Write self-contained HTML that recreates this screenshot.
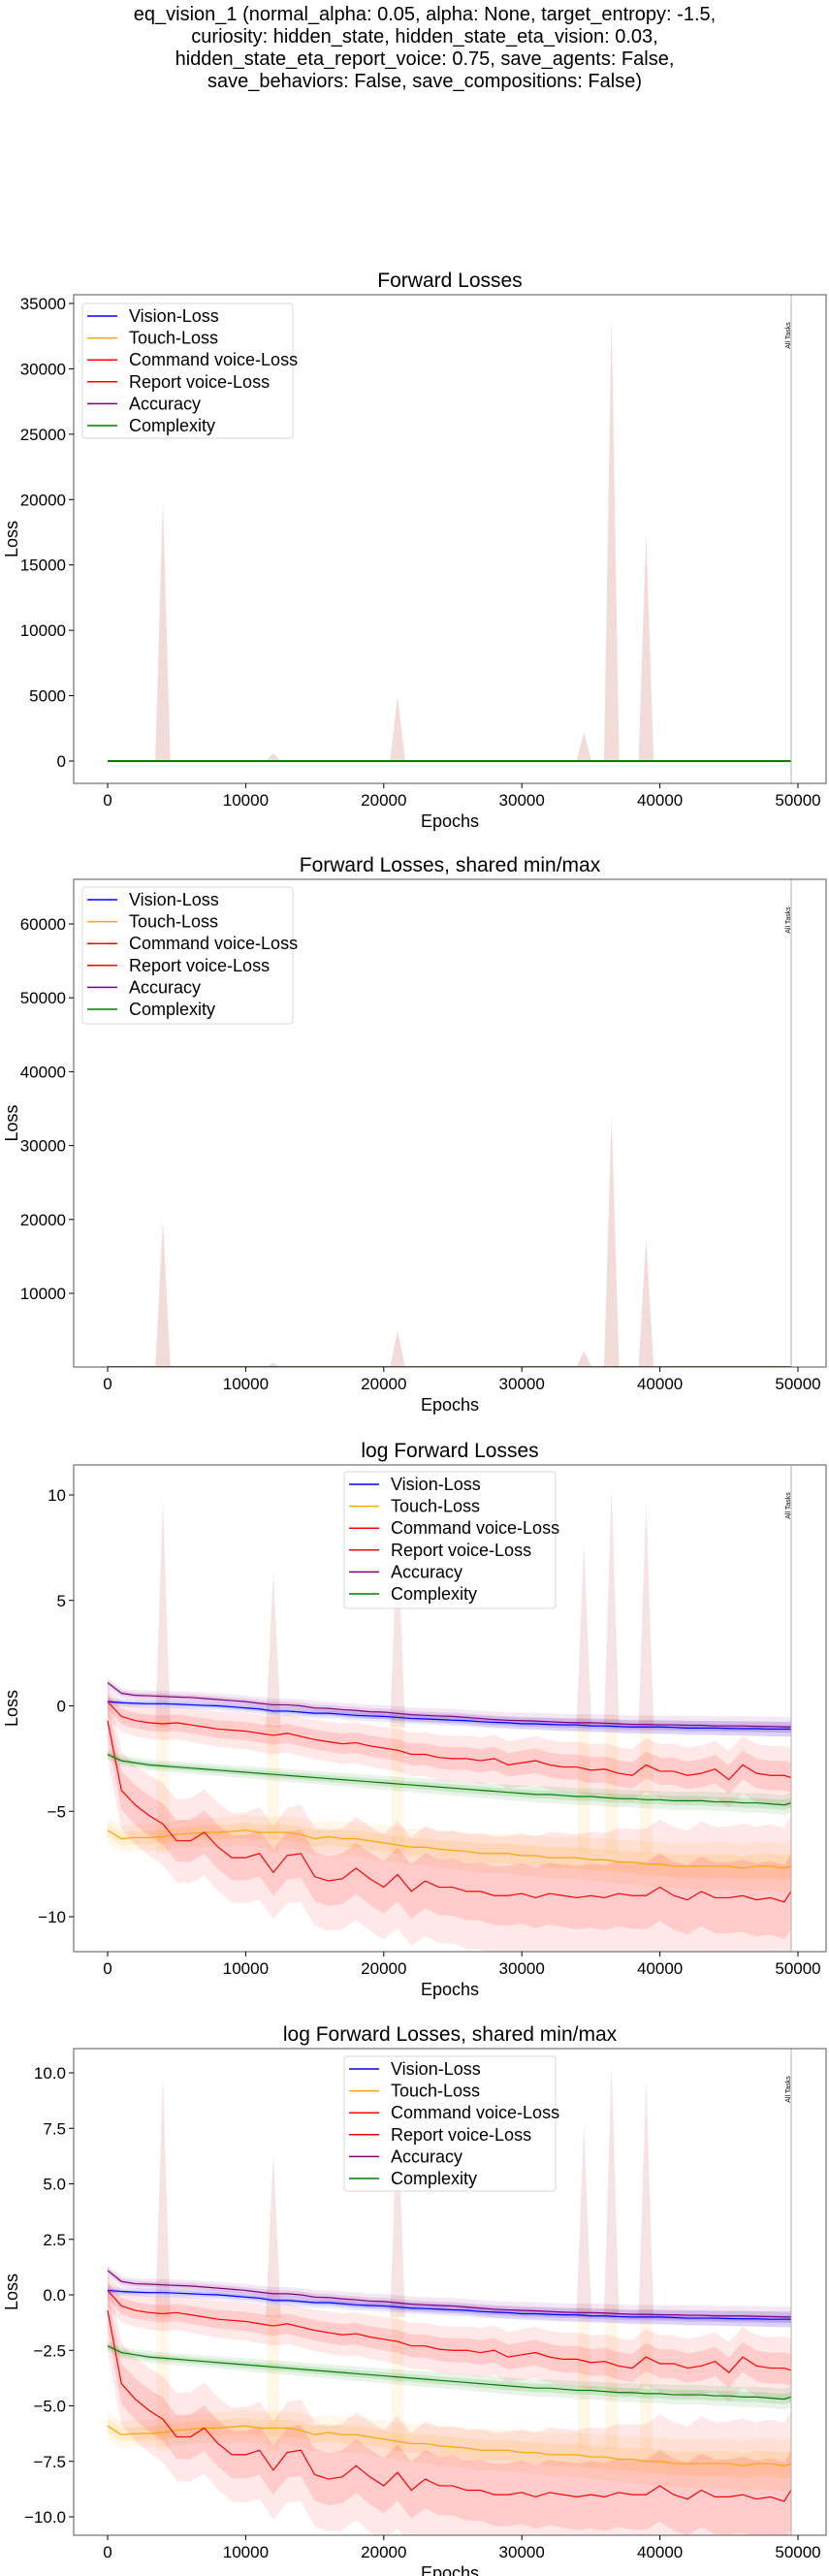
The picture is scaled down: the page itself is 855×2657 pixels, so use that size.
<!DOCTYPE html>
<html><head><meta charset="utf-8">
<style>
html,body{margin:0;padding:0;background:#fff;}
svg{display:block;font-family:"Liberation Sans","DejaVu Sans",sans-serif;}
</style></head>
<body>
<svg id="fig" width="855" height="2657" viewBox="0 0 855 2657" xmlns="http://www.w3.org/2000/svg">
<g font-size="20" text-anchor="middle" fill="#000">
<text x="438" y="21">eq_vision_1 (normal_alpha: 0.05, alpha: None, target_entropy: -1.5,</text>
<text x="438" y="44">curiosity: hidden_state, hidden_state_eta_vision: 0.03,</text>
<text x="438" y="67">hidden_state_eta_report_voice: 0.75, save_agents: False,</text>
<text x="438" y="90">save_behaviors: False, save_compositions: False)</text>
</g>
</svg>
<script>
// ---- data ----
const epochs = [0,1000,2000,3000,4000,5000,6000,7000,8000,9000,10000,11000,12000,13000,14000,15000,16000,17000,18000,19000,20000,21000,22000,23000,24000,25000,26000,27000,28000,29000,30000,31000,32000,33000,34000,35000,36000,37000,38000,39000,40000,41000,42000,43000,44000,45000,46000,47000,48000,49000,49500];
const seriesNames = ["Vision-Loss","Touch-Loss","Command voice-Loss","Report voice-Loss","Accuracy","Complexity"];
const visionLog = [0.2,0.15,0.12,0.1,0.1,0.08,0.05,0.02,0,-0.05,-0.1,-0.15,-0.25,-0.25,-0.3,-0.35,-0.35,-0.4,-0.45,-0.48,-0.5,-0.55,-0.6,-0.62,-0.65,-0.68,-0.7,-0.75,-0.78,-0.8,-0.85,-0.85,-0.88,-0.9,-0.9,-0.95,-0.95,-0.98,-1.0,-1.0,-1.0,-1.02,-1.05,-1.05,-1.05,-1.07,-1.08,-1.08,-1.1,-1.1,-1.1];
const touchLog = [-5.9,-6.3,-6.25,-6.25,-6.2,-6.1,-6.05,-6.0,-6.0,-5.95,-5.9,-6.0,-6.0,-6.0,-6.1,-6.3,-6.2,-6.3,-6.3,-6.4,-6.5,-6.6,-6.7,-6.7,-6.8,-6.85,-6.9,-7.0,-7.0,-7.0,-7.1,-7.1,-7.2,-7.2,-7.2,-7.3,-7.3,-7.4,-7.4,-7.5,-7.5,-7.6,-7.6,-7.6,-7.6,-7.6,-7.7,-7.6,-7.6,-7.7,-7.6];
const commandLog = [0.2,-0.5,-0.7,-0.8,-0.85,-0.8,-0.9,-1.0,-1.1,-1.15,-1.2,-1.3,-1.4,-1.3,-1.45,-1.6,-1.7,-1.8,-1.75,-1.9,-2.0,-2.1,-2.3,-2.3,-2.45,-2.5,-2.5,-2.6,-2.5,-2.8,-2.7,-2.6,-2.8,-2.9,-2.9,-3.05,-3.0,-3.2,-3.3,-2.8,-3.1,-3.1,-3.3,-3.2,-3.0,-3.5,-2.8,-3.2,-3.3,-3.3,-3.4];
const reportLog = [-0.7,-4.0,-4.7,-5.2,-5.6,-6.4,-6.4,-6.0,-6.7,-7.2,-7.2,-7.0,-7.9,-7.1,-7.0,-8.1,-8.3,-8.2,-7.7,-8.2,-8.6,-8.0,-8.8,-8.3,-8.6,-8.6,-8.8,-8.8,-9.0,-9.0,-8.9,-9.1,-8.9,-9.0,-9.1,-9.0,-9.1,-8.9,-9.0,-9.0,-8.6,-9.0,-9.2,-8.8,-9.1,-9.1,-9.0,-9.2,-9.1,-9.3,-8.8];
const accuracyLog = [1.1,0.6,0.5,0.48,0.45,0.42,0.4,0.35,0.3,0.25,0.2,0.12,0.05,0.05,0.0,-0.1,-0.12,-0.18,-0.22,-0.28,-0.3,-0.36,-0.42,-0.45,-0.48,-0.5,-0.55,-0.6,-0.65,-0.68,-0.7,-0.72,-0.75,-0.78,-0.8,-0.8,-0.82,-0.85,-0.88,-0.88,-0.9,-0.9,-0.92,-0.92,-0.95,-0.95,-0.95,-0.97,-0.98,-1.0,-1.0];
const complexityLog = [-2.3,-2.6,-2.7,-2.8,-2.85,-2.9,-2.95,-3.0,-3.05,-3.1,-3.15,-3.2,-3.25,-3.3,-3.35,-3.4,-3.45,-3.5,-3.55,-3.6,-3.65,-3.7,-3.75,-3.8,-3.85,-3.9,-3.95,-4.0,-4.05,-4.1,-4.15,-4.2,-4.2,-4.25,-4.3,-4.3,-4.35,-4.4,-4.4,-4.45,-4.45,-4.5,-4.5,-4.5,-4.55,-4.55,-4.6,-4.6,-4.65,-4.7,-4.6];
const bandWidths = [0.15,0.5,0.6,1.5,0.2,0.2];
const spikeEpochs = [4000,12000,21000,34500,36500,39000];
const spikePeaks = [20000,600,5000,2200,34000,17500];
const linTicks1 = [0,5000,10000,15000,20000,25000,30000,35000];
const linTicks2 = [10000,20000,30000,40000,50000,60000];
const logTicks3 = [-10,-5,0,5,10];
const logTicks4 = [-10,-7.5,-5,-2.5,0,2.5,5,7.5,10];
const xTicks = [0,10000,20000,30000,40000,50000];

const colors = ["#0000ff","#ffa500","#ff0000","#ff0000","#800080","#008000"];
const NS = "http://www.w3.org/2000/svg";
const svg = document.getElementById('fig');
const allSeries = [visionLog,touchLog,commandLog,reportLog,accuracyLog,complexityLog];

function mk(tag, attrs, parent){
  const e = document.createElementNS(NS, tag);
  for (const k in attrs) e.setAttribute(k, attrs[k]);
  (parent||svg).appendChild(e);
  return e;
}
const L=76,R=852;
function xs(v){ return 111 + (v-0)*(823-111)/50000; }

const charts = [
 {name:"forward-losses", title:"Forward Losses", top:304, bottom:808, v1:35000, p1:313, v0:0, p0:785, log:false, ticks:linTicks1, fmt:v=>String(v), legX:85, legY:313, legW:217, legH:139},
 {name:"forward-losses-shared", title:"Forward Losses, shared min/max", top:907, bottom:1410, v1:60000, p1:953, v0:10000, p0:1334, log:false, ticks:linTicks2, fmt:v=>String(v), legX:85, legY:915, legW:217, legH:141},
 {name:"log-forward-losses", title:"log Forward Losses", top:1511, bottom:2013, v1:10, p1:1542, v0:-10, p0:1977, log:true, ticks:logTicks3, fmt:v=>(v<0?"\u2212"+(-v):String(v)), legX:355, legY:1518, legW:218, legH:141},
 {name:"log-forward-losses-shared", title:"log Forward Losses, shared min/max", top:2113, bottom:2615, v1:10, p1:2138, v0:-10, p0:2596, log:true, ticks:logTicks4, fmt:v=>(v<0?"\u2212"+(-v).toFixed(1):v.toFixed(1)), legX:355, legY:2121, legW:218, legH:139}
];

charts.forEach((c,ci)=>{
  const ys = v => c.p0 + (v-c.v0)*(c.p1-c.p0)/(c.v1-c.v0);
  const g = mk('g',{});
  
  
  const clipId = 'clip'+ci;
  const cp = mk('clipPath',{id:clipId},g);
  mk('rect',{x:L,y:c.top,width:R-L,height:c.bottom-c.top},cp);
  const plot = mk('g',{'clip-path':'url(#'+clipId+')'},g);
  
  
  const val = (v)=> c.log ? v : Math.exp(v);
  spikeEpochs.forEach((e,i)=>{
    const base = c.log ? -1.0 : 0;
    const peak = c.log ? Math.log(spikePeaks[i]) : spikePeaks[i];
    const p = mk('polygon',{points:`${xs(e-550)},${ys(base)} ${xs(e)},${ys(peak)} ${xs(e+550)},${ys(base)}`, fill:'#e8c4c0', 'fill-opacity':c.log?0.45:0.6},plot);
    
    
    if (c.log){
      const t = mk('rect',{x:xs(e-450),y:ys(-0.5),width:xs(e+450)-xs(e-450),height:ys(-7)-ys(-0.5),fill:'#ffe6b0','fill-opacity':0.3},plot);
      
      
    }
  });
  if (c.log){
    allSeries.forEach((s,si)=>{
      [2,1].forEach(mult=>{
        let up='',dn='';
        s.forEach((v,i)=>{
          const w = bandWidths[si]*mult*(0.6+0.6*i/s.length);
          up += `${xs(epochs[i])},${ys(v+w)} `;
        });
        for (let i=s.length-1;i>=0;i--){
          const w = bandWidths[si]*mult*(0.6+0.6*i/s.length);
          dn += `${xs(epochs[i])},${ys(s[i]-w)} `;
        }
        const b = mk('polygon',{points:up+dn, fill:colors[si], 'fill-opacity':mult===2?0.09:0.12},plot);
        
        
      });
    });
  }
  allSeries.forEach((s,si)=>{
    const pts = s.map((v,i)=>`${xs(epochs[i])},${ys(val(v))}`).join(' ');
    const pl = mk('polyline',{points:pts, fill:'none', stroke:colors[si], 'stroke-width':c.log?1.2:2},plot);
    
    
  });
  mk('line',{x1:816,x2:816,y1:c.top,y2:c.bottom,stroke:'#b0b0b0','stroke-width':1},g);
  const at = mk('text',{x:0,y:0,'font-size':7,'text-anchor':'middle',transform:`translate(815,${c.top+42}) rotate(-90)`,fill:'#000'},g);
  at.textContent='All Tasks';
  
  
  mk('rect',{x:L,y:c.top,width:R-L,height:c.bottom-c.top,fill:'none',stroke:'#555','stroke-width':1},g);
  c.ticks.forEach(t=>{
    const y=ys(t);
    mk('line',{x1:L-5,x2:L,y1:y,y2:y,stroke:'#000'},g);
    const tx = mk('text',{x:L-8,y:y+6,'font-size':17,'text-anchor':'end'},g);
    tx.textContent = c.fmt(t);
    
    
  });
  xTicks.forEach(t=>{
    const x=xs(t);
    mk('line',{x1:x,x2:x,y1:c.bottom,y2:c.bottom+5,stroke:'#000'},g);
    const tx = mk('text',{x:x,y:c.bottom+23,'font-size':17,'text-anchor':'middle'},g);
    tx.textContent = String(t);
    
    
  });
  const xl = mk('text',{x:464,y:c.bottom+45,'font-size':18,'text-anchor':'middle'},g);
  xl.textContent='Epochs';
  
  
  const yl = mk('text',{x:0,y:0,'font-size':18,'text-anchor':'middle',transform:`translate(18,${(c.top+c.bottom)/2}) rotate(-90)`},g);
  yl.textContent='Loss';
  
  
  const tt = mk('text',{x:464,y:c.top-8,'font-size':21,'text-anchor':'middle'},g);
  tt.textContent=c.title;
  
  
  const lg = mk('g',{},g);
  
  
  mk('rect',{x:c.legX,y:c.legY,width:c.legW,height:c.legH,rx:3,fill:'#fff','fill-opacity':0.8,stroke:'#d8d8d8'},lg);
  seriesNames.forEach((n,i)=>{
    const y = c.legY+13+i*22.6;
    mk('line',{x1:c.legX+5,x2:c.legX+36,y1:y,y2:y,stroke:colors[i],'stroke-width':1.5},lg);
    const e = mk('text',{x:c.legX+48,y:y+6,'font-size':18},lg);
    e.textContent=n;
    
    
  });
});
</script>
</body></html>
